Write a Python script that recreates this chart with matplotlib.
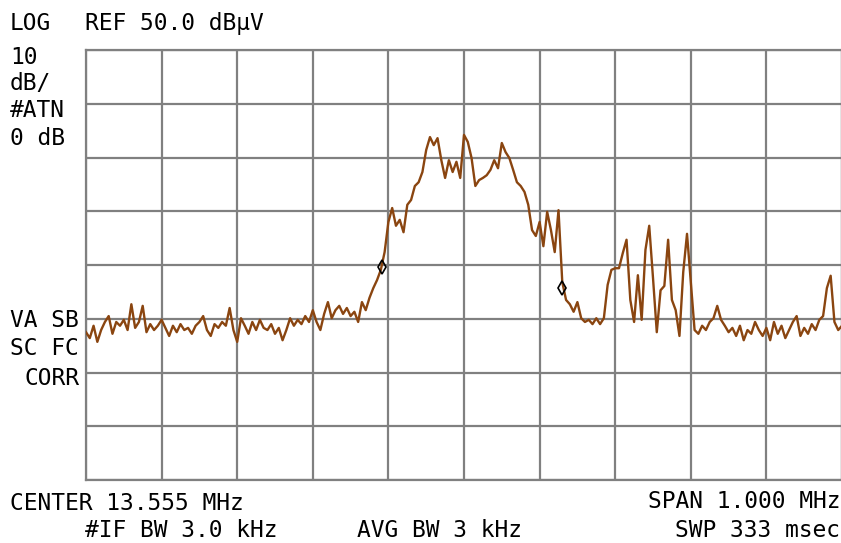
import numpy as np
import matplotlib
matplotlib.use("Agg")
import matplotlib.pyplot as plt

# analyzer settings
center_mhz = 13.555
span_mhz = 1.000
ref_level = 50.0   # dBuV, top graticule line
db_per_div = 10

# trace level in dBuV, 20 samples per horizontal division (201 points)
level = [
    -2.5, -3.6, -1.3, -4.3, -2.1, -0.6, 0.5, -2.8, -0.6, -1.3, -0.2, -2.1, 2.7, -1.7, -0.6, 2.4, -2.5, -1.0, -2.1, -1.3,
    -0.2, -1.7, -3.2, -1.3, -2.5, -1.0, -2.1, -1.7, -2.8, -1.3, -0.6, 0.5, -2.1, -3.2, -1.0, -1.7, -0.6, -1.3, 2.0, -2.1,
    -4.3, 0.1, -1.3, -2.8, -0.6, -2.1, -0.2, -1.7, -2.1, -1.0, -2.8, -1.7, -4.0, -2.1, 0.1, -1.3, -0.2, -1.0, 0.5, -0.6,
    1.6, -0.6, -2.1, 0.9, 3.1, 0.1, 1.6, 2.4, 0.9, 2.0, 0.5, 1.3, -0.6, 3.1, 1.6, 3.9, 5.7, 7.2, 9.1, 12.4,
    18.0, 20.6, 17.3, 18.4, 16.1, 21.2, 22.1, 24.7, 25.4, 27.3, 31.4, 33.8, 32.3, 33.6, 29.5, 26.2, 29.5, 27.3, 29.2, 26.2,
    34.2, 32.9, 29.9, 24.7, 25.8, 26.2, 26.7, 27.7, 29.5, 28.0, 32.7, 31.0, 29.9, 27.7, 25.4, 24.7, 23.6, 21.2, 16.5, 15.4,
    18.0, 13.5, 19.9, 16.5, 12.4, 20.2, 6.8, 3.5, 2.7, 1.3, 3.1, 0.1, -0.6, -0.2, -1.0, 0.1, -1.0, 0.1, 6.3, 9.1,
    9.4, 9.4, 12.2, 14.7, 3.5, -0.6, 8.1, -0.2, 12.8, 17.3, 7.6, -2.5, 5.3, 6.1, 14.7, 3.5, 1.6, -3.2, 8.7, 15.8,
    6.8, -2.1, -2.8, -1.3, -2.1, -0.6, 0.1, 2.4, -0.2, -1.3, -2.5, -1.7, -3.2, -1.3, -4.0, -2.1, -2.8, -0.6, -2.1, -3.2,
    -1.7, -4.0, -0.6, -2.8, -1.3, -3.6, -2.1, -0.6, 0.5, -3.2, -1.7, -2.8, -1.0, -2.1, -0.2, 0.5, 5.7, 8.0, -0.6, -2.1, -1.3,
]

# the two markers on the trace (MHz, dBuV)
marker_freq = [13.4467, 13.685]
marker_level = [9.6, 5.7]

f_start = center_mhz - span_mhz / 2
f_stop = center_mhz + span_mhz / 2
freq = np.linspace(f_start, f_stop, len(level))
bottom = ref_level - 8 * db_per_div

W, H = 841, 543
fig = plt.figure(figsize=(W / 100, H / 100), dpi=100)
ax = fig.add_axes([86 / W, 1 - 480 / H, 756 / W, 430 / H])

ax.plot(freq, level, color="#8a4510", lw=1.7, zorder=3)
ax.plot(marker_freq, marker_level, ls="none", marker="d", ms=7, mfc="none",
        mec="black", mew=1.2, zorder=4)

ax.set_xlim(f_start, f_stop)
ax.set_ylim(bottom, ref_level)
ax.set_xticks(np.linspace(f_start, f_stop, 11))
ax.set_yticks(np.linspace(bottom, ref_level, 9))
ax.grid(True, color="#808080", lw=1.6)
ax.tick_params(length=0, labelbottom=False, labelleft=False)
for s in ax.spines.values():
    s.set_color("#808080")
    s.set_linewidth(1.6)

mono = dict(family="DejaVu Sans Mono", fontsize=16.5, color="black", va="baseline")

def txt(x, y, s, ha="left"):
    fig.text(x / W, 1 - y / H, s, ha=ha, **mono)

txt(10, 30, "LOG")
txt(85, 30, "REF 50.0 dBµV")
txt(10, 64, "10")
txt(10, 90, "dB/")
txt(10, 117, "#ATN")
txt(10, 145, "0 dB")
txt(79, 327, "VA SB", ha="right")
txt(79, 355, "SC FC", ha="right")
txt(79, 385, "CORR", ha="right")
txt(10, 510, "CENTER 13.555 MHz")
txt(85, 537, "#IF BW 3.0 kHz")
txt(357, 537, "AVG BW 3 kHz")
txt(840, 508, "SPAN 1.000 MHz", ha="right")
txt(840, 537, "SWP 333 msec", ha="right")

fig.savefig("out.png", dpi=100)
